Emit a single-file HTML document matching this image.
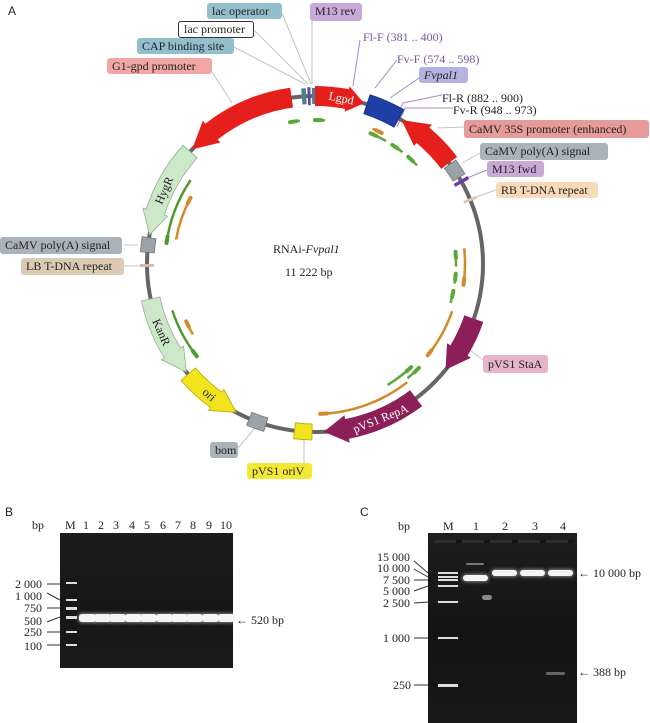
<!DOCTYPE html>
<html><head><meta charset="utf-8">
<style>
body{margin:0;background:#fff;}
#w{position:relative;width:650px;height:723px;overflow:hidden;font-family:"Liberation Serif",serif;color:#222;}
.l{position:absolute;font-size:12px;line-height:16px;padding:0 5px;border-radius:3px;white-space:nowrap;box-sizing:border-box;}
.t{position:absolute;font-size:12px;line-height:14px;white-space:nowrap;}
.gel{position:absolute;background:#141414;}
.b{position:absolute;background:#f4f4f4;border-radius:3px;box-shadow:0 0 3px 1px rgba(255,255,255,.45);}
.m{position:absolute;background:#ddd;height:2px;}
</style></head><body><div id="w">
<svg id="s" width="650" height="723" style="position:absolute;left:0;top:0">
<g stroke="#c4c4c4" stroke-width="1" fill="none">
<line x1="282" y1="13" x2="311" y2="84"/><line x1="254" y1="30" x2="308" y2="84"/>
<line x1="234" y1="47" x2="305" y2="84"/><line x1="212" y1="72" x2="232" y2="103"/>
<line x1="312" y1="21" x2="312" y2="84"/>
<line x1="464" y1="127" x2="437" y2="128"/><line x1="480" y1="153" x2="462" y2="163"/>
<line x1="496" y1="190" x2="473" y2="198"/><line x1="124" y1="245" x2="138" y2="245"/>
<line x1="124" y1="266" x2="140" y2="266"/><line x1="483" y1="360" x2="470" y2="350"/>
<line x1="238" y1="448" x2="255" y2="428"/><line x1="304" y1="463" x2="304" y2="438"/>
</g>
<g stroke="#a98bc8" stroke-width="1" fill="none">
<polyline points="360,40 353,86"/><polyline points="397,60 375,88"/>
<polyline points="419,78 390,98"/><polyline points="442,95 403,103 393,125"/>
<polyline points="453,108 405,108 397,127"/><line x1="487" y1="170" x2="467" y2="178"/>
</g>
<g id="g"></g>
</svg>
<div class="t" style="left:8px;top:4px;font-family:'Liberation Sans',sans-serif">A</div>
<div class="l" style="left:207px;top:3px;width:75px;background:#93bfcd">lac operator</div>
<div class="l" style="left:178px;top:21px;width:76px;background:#fff;border:1px solid #333;line-height:15px">lac promoter</div>
<div class="l" style="left:137px;top:38px;width:97px;background:#93bfcd">CAP binding site</div>
<div class="l" style="left:107px;top:58px;width:105px;background:#f1a7a6">G1-gpd promoter</div>
<div class="l" style="left:310px;top:3px;width:52px;height:18px;background:#c8a9d8">M13 rev</div>
<div class="t" style="left:363px;top:30px;color:#7a55a8">Fl-F (381 .. 400)</div>
<div class="t" style="left:397px;top:52px;color:#7a55a8">Fv-F (574 .. 598)</div>
<div class="l" style="left:419px;top:67px;width:49px;background:#b6b2e0;font-style:italic">Fvpal1</div>
<div class="t" style="left:442px;top:91px">Fl-R (882 .. 900)</div>
<div class="t" style="left:453px;top:103px">Fv-R (948 .. 973)</div>
<div class="l" style="left:464px;top:120px;width:185px;height:18px;line-height:18px;background:#e79a9a">CaMV 35S promoter (enhanced)</div>
<div class="l" style="left:480px;top:143px;width:128px;height:17px;background:#a8b3ba">CaMV poly(A) signal</div>
<div class="l" style="left:487px;top:161px;width:57px;background:#c8a9d8">M13 fwd</div>
<div class="l" style="left:496px;top:182px;width:102px;background:#f8d9b8">RB T-DNA repeat</div>
<div class="l" style="left:0px;top:237px;width:122px;height:17px;background:#a8b3ba">CaMV poly(A) signal</div>
<div class="l" style="left:21px;top:258px;width:103px;height:17px;background:#dccbb4">LB T-DNA repeat</div>
<div class="l" style="left:483px;top:355px;width:65px;height:18px;line-height:18px;background:#e6b5cb">pVS1 StaA</div>
<div class="l" style="left:210px;top:442px;width:28px;background:#a8b3ba">bom</div>
<div class="l" style="left:247px;top:463px;width:65px;background:#f3e935">pVS1 oriV</div>
<div class="t" style="left:273px;top:242px">RNAi-<i>Fvpal1</i></div>
<div class="t" style="left:285px;top:265px">11 222 bp</div>

<!-- Gel B -->
<div class="t" style="left:5px;top:505px;font-family:'Liberation Sans',sans-serif">B</div>
<div class="t" style="left:32px;top:518px">bp</div>
<div class="t" style="left:65px;top:518px">M</div>
<div class="t" style="left:83px;top:518px">1</div><div class="t" style="left:98px;top:518px">2</div>
<div class="t" style="left:113px;top:518px">3</div><div class="t" style="left:129px;top:518px">4</div>
<div class="t" style="left:144px;top:518px">5</div><div class="t" style="left:160px;top:518px">6</div>
<div class="t" style="left:175px;top:518px">7</div><div class="t" style="left:190px;top:518px">8</div>
<div class="t" style="left:206px;top:518px">9</div><div class="t" style="left:220px;top:518px">10</div>
<div class="gel" style="left:60px;top:533px;width:173px;height:135px;background:linear-gradient(#1c1c1c,#161616 60%,#1b1b1b)"></div>
<div class="t" style="left:15px;top:577px">2 000</div><div class="t" style="left:15px;top:589px">1 000</div>
<div class="t" style="left:24px;top:601px">750</div><div class="t" style="left:24px;top:614px">500</div>
<div class="t" style="left:24px;top:625px">250</div><div class="t" style="left:24px;top:639px">100</div>
<svg width="650" height="723" style="position:absolute;left:0;top:0" stroke="#333" stroke-width="1">
<line x1="47" y1="584" x2="60" y2="584"/><line x1="47" y1="593" x2="60" y2="600"/>
<line x1="47" y1="608" x2="60" y2="608"/><line x1="47" y1="622" x2="60" y2="617"/>
<line x1="47" y1="632" x2="60" y2="632"/><line x1="47" y1="645" x2="60" y2="645"/>
<line x1="414" y1="561" x2="428" y2="573"/><line x1="414" y1="569" x2="428" y2="577"/>
<line x1="414" y1="580" x2="428" y2="580"/><line x1="414" y1="591" x2="428" y2="586"/>
<line x1="414" y1="603" x2="428" y2="602"/><line x1="414" y1="638" x2="428" y2="638"/>
<line x1="414" y1="685" x2="428" y2="685"/>
</svg>
<div class="m" style="left:66px;top:582px;width:11px"></div><div class="m" style="left:66px;top:599px;width:11px"></div>
<div class="m" style="left:66px;top:607px;width:11px;height:3px"></div><div class="m" style="left:66px;top:616px;width:11px;height:3px"></div>
<div class="m" style="left:66px;top:631px;width:11px"></div><div class="m" style="left:66px;top:644px;width:11px"></div>
<div class="b" style="left:79px;top:614px;width:17px;height:8px"></div><div class="b" style="left:94px;top:614px;width:17px;height:8px"></div>
<div class="b" style="left:109px;top:614px;width:17px;height:8px"></div><div class="b" style="left:125px;top:614px;width:17px;height:8px"></div>
<div class="b" style="left:140px;top:614px;width:17px;height:8px"></div><div class="b" style="left:156px;top:614px;width:17px;height:8px"></div>
<div class="b" style="left:171px;top:614px;width:17px;height:8px"></div><div class="b" style="left:186px;top:614px;width:17px;height:8px"></div>
<div class="b" style="left:202px;top:614px;width:17px;height:8px"></div><div class="b" style="left:218px;top:614px;width:17px;height:8px"></div>
<div class="t" style="left:236px;top:613px">&larr; 520 bp</div>

<!-- Gel C -->
<div class="t" style="left:360px;top:505px;font-family:'Liberation Sans',sans-serif">C</div>
<div class="t" style="left:398px;top:519px">bp</div>
<div class="t" style="left:443px;top:519px">M</div>
<div class="t" style="left:473px;top:519px">1</div><div class="t" style="left:502px;top:519px">2</div>
<div class="t" style="left:532px;top:519px">3</div><div class="t" style="left:560px;top:519px">4</div>
<div class="gel" style="left:428px;top:533px;width:149px;height:190px;background:linear-gradient(#1e1e1e,#141414 50%,#181818)"></div>
<div class="t" style="left:377px;top:550px">15 000</div><div class="t" style="left:377px;top:561px">10 000</div>
<div class="t" style="left:383px;top:573px">7 500</div><div class="t" style="left:383px;top:584px">5 000</div>
<div class="t" style="left:383px;top:596px">2 500</div><div class="t" style="left:383px;top:631px">1 000</div>
<div class="t" style="left:393px;top:678px">250</div>
<div style="position:absolute;left:434px;top:540px;width:140px;height:3px;background:repeating-linear-gradient(90deg,#2c2c2c 0 22px,#141414 22px 28px)"></div>
<div class="m" style="left:438px;top:572px;width:20px"></div><div class="m" style="left:438px;top:576px;width:20px"></div>
<div class="m" style="left:438px;top:579px;width:20px"></div><div class="m" style="left:438px;top:585px;width:20px"></div>
<div class="m" style="left:438px;top:601px;width:20px"></div><div class="m" style="left:438px;top:637px;width:20px"></div>
<div class="m" style="left:438px;top:684px;width:20px;height:3px"></div>
<div class="b" style="left:463px;top:575px;width:25px;height:6px"></div>
<div class="b" style="left:466px;top:563px;width:18px;height:2px;background:#777;box-shadow:none"></div>
<div class="b" style="left:482px;top:595px;width:10px;height:5px;background:#888;box-shadow:none"></div>
<div class="b" style="left:492px;top:570px;width:25px;height:6px"></div>
<div class="b" style="left:520px;top:570px;width:25px;height:6px"></div>
<div class="b" style="left:548px;top:570px;width:25px;height:6px"></div>
<div class="b" style="left:546px;top:672px;width:19px;height:3px;background:#666;box-shadow:none"></div>
<div class="t" style="left:578px;top:566px">&larr; 10 000 bp</div>
<div class="t" style="left:578px;top:665px">&larr; 388 bp</div>
</div>
<script>
var cx=315,cy=264,R=168,g=document.getElementById('g'),h='';
function P(r,a){a=a*Math.PI/180;return (cx+r*Math.sin(a)).toFixed(1)+','+(cy-r*Math.cos(a)).toFixed(1);}
function A(r,a1,a2){return 'A'+r+','+r+' 0 '+(Math.abs(a2-a1)>180?1:0)+' '+(a2>a1?1:0)+' '+P(r,a2);}
function arrow(a1,a2,w,hw,hl,f,s){var d=a2>a1?1:-1,b=a2-d*hl;
h+='<path d="M'+P(R+w/2,a1)+A(R+w/2,a1,b)+'L'+P(R+hw,b)+'L'+P(R,a2)+'L'+P(R-hw,b)+'L'+P(R-w/2,b)+A(R-w/2,b,a1)+'Z" fill="'+f+'" stroke="'+(s||'none')+'" stroke-width="0.8"/>';}
function seg(a1,a2,w,f,s){h+='<path d="M'+P(R+w/2,a1)+A(R+w/2,a1,a2)+'L'+P(R-w/2,a2)+A(R-w/2,a2,a1)+'Z" fill="'+f+'" stroke="'+(s||'none')+'" stroke-width="0.8"/>';}
function tr(r,a1,a2,c,w){var d=a2>a1?1:-1;h+='<path d="M'+P(r,a1)+A(r,a1,a2)+'" fill="none" stroke="'+c+'" stroke-width="'+(w||2.5)+'"/>';
var p=P(r,a2).split(','),q=P(r,a2-d*2.5).split(',');h+='<line x1="'+q[0]+'" y1="'+q[1]+'" x2="'+p[0]+'" y2="'+p[1]+'" stroke="'+c+'" stroke-width="4" stroke-linecap="round"/>';}
h+='<circle cx="'+cx+'" cy="'+cy+'" r="'+R+'" fill="none" stroke="#656565" stroke-width="4"/>';
arrow(-8,-47,20,14,9,'#e5201c');
arrow(-48,-80,19,13,8,'#cde8c9','#8fb48a');
arrow(-102,-130,19,13,8,'#cde8c9','#8fb48a');
arrow(-131,-152,19,13,8,'#f2e41c','#b5a800');
arrow(143,177,20,14,8,'#8d1f58');
arrow(109,129,20,14,8,'#8d1f58');
arrow(53,31,20,14,9,'#e5201c');
arrow(0,17,20,13,6,'#e5201c');
seg(18,30,20,'#1f3fa8','#15307f');
seg(53.5,59,14,'#9aa3a8','#777');
seg(-86,-81,14,'#9aa3a8','#777');
seg(-163,-157,14,'#9aa3a8','#777');
seg(181,187,16,'#f2e41c','#b5a800');
seg(-4.5,-3,16,'#4f7f8f');seg(-2.5,-1.5,18,'#5a4ca0');seg(-1,0,16,'#4f7f8f');
seg(60,61.2,16,'#6a3ea8');seg(67,68,14,'#d9c9b0');seg(-91,-90,14,'#d9b9a0');
/* inner tracks */
tr(144,-6,-10,'#5aa83a');tr(144,4,0,'#5aa83a');
tr(147,23,27,'#d38a2a');tr(142,30,23,'#5aa83a');tr(142,38,33,'#5aa83a');tr(142,46,41,'#5aa83a');
tr(150,-56,-82,'#4f9a2f');tr(141,-80,-62,'#d38a2a');
tr(150,-108,-128,'#4f9a2f');tr(141,-120,-114,'#d38a2a');
tr(150,84,98,'#d38a2a');tr(141,91,85,'#5aa83a');tr(141,98,94,'#5aa83a');tr(141,106,101,'#5aa83a');
tr(145,109,129,'#d38a2a');
tr(147,141,135,'#5aa83a');tr(141,149,137,'#5aa83a');tr(150,142,178,'#d38a2a');
/* arrow text */
h+='<text x="0" y="0" transform="translate('+P(R,9)+') rotate(12)" font-family="Liberation Serif" font-size="12" fill="#fff" text-anchor="middle" dy="4">Lgpd</text>';
h+='<text x="0" y="0" transform="translate('+P(R,-64)+') rotate(-66)" font-family="Liberation Serif" font-size="12" fill="#222" text-anchor="middle" dy="4">HygR</text>';
h+='<text x="0" y="0" transform="translate('+P(R,-114)+') rotate(66)" font-family="Liberation Serif" font-size="12" fill="#222" text-anchor="middle" dy="4">KanR</text>';
h+='<text x="0" y="0" transform="translate('+P(R,-141)+') rotate(42)" font-family="Liberation Serif" font-size="12" fill="#222" text-anchor="middle" dy="4">ori</text>';
h+='<text x="0" y="0" transform="translate('+P(R,157)+') rotate(-22)" font-family="Liberation Serif" font-size="12" fill="#fff" text-anchor="middle" dy="4">pVS1 RepA</text>';
g.innerHTML=h;
</script>
</body></html>
